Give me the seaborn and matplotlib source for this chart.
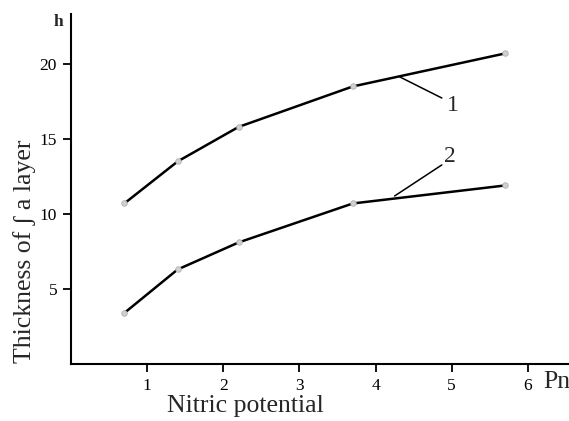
import numpy as np
import pandas as pd
import matplotlib
matplotlib.use("Agg")
import matplotlib.pyplot as plt
import seaborn as sns

# ================= DADOS =================
potencial = [0.7, 1.4, 2.2, 3.7, 5.7]
espessura_1 = [10.7, 13.5, 15.8, 18.5, 20.7]
espessura_2 = [3.4, 6.3, 8.1, 10.7, 11.9]
x_ticks = [1, 2, 3, 4, 5, 6]
y_ticks = [5, 10, 15, 20]

df = pd.DataFrame({
    "x": potencial * 2,
    "y": espessura_1 + espessura_2,
    "curva": ["1"] * len(potencial) + ["2"] * len(potencial),
})

# ================= PLOT =================
sns.set_style("white")
plt.rcParams["font.family"] = ["Liberation Serif", "DejaVu Serif"]

fig = plt.figure(figsize=(5.69, 4.21), dpi=100)
ax = fig.add_axes([71 / 569, 57 / 421, 498 / 569, 350 / 421])

sns.lineplot(data=df, x="x", y="y", units="curva", estimator=None,
             color="black", linewidth=1.8, marker="o", markersize=4,
             markerfacecolor="#d0d0d0", markeredgecolor="#b0b0b0",
             markeredgewidth=0.6, ax=ax, legend=False)

ax.set_xlim(0, 6.54)
ax.set_ylim(0, 23.33)
ax.set_xticks(x_ticks)
ax.set_yticks(y_ticks)
ax.tick_params(axis="both", direction="out", length=6, width=1.3,
               labelsize=12.5, colors="black", left=True, bottom=True,
               pad=4)
for s in ["top", "right"]:
    ax.spines[s].set_visible(False)
for s in ["left", "bottom"]:
    ax.spines[s].set_linewidth(1.5)
    ax.spines[s].set_color("black")
ax.set_xlabel("")
ax.set_ylabel("")

# leader lines e rótulos das curvas
ax.plot([4.32, 4.87], [19.13, 17.73], color="black", linewidth=1.1)
ax.text(5.01, 17.2, "1", fontsize=17, ha="center", va="center")
ax.plot([4.25, 4.87], [11.2, 13.27], color="black", linewidth=1.1)
ax.text(4.97, 13.8, "2", fontsize=17, ha="center", va="center")

# textos da figura
fig.text(58 / 569, 1 - 22 / 421, "h", fontsize=12.5, fontweight="bold",
         ha="center", va="center")
fig.text(25 / 569, 1 - 251 / 421, "Thickness of ʃ a layer", fontsize=18.5,
         rotation=90, ha="center", va="center")
fig.text(245 / 569, 1 - 406 / 421, "Nitric potential", fontsize=18.5,
         ha="center", va="center")
fig.text(543 / 569, 1 - 382 / 421, "Pn", fontsize=18.5, ha="left", va="center")

fig.savefig("out.png", dpi=100, facecolor="white")
